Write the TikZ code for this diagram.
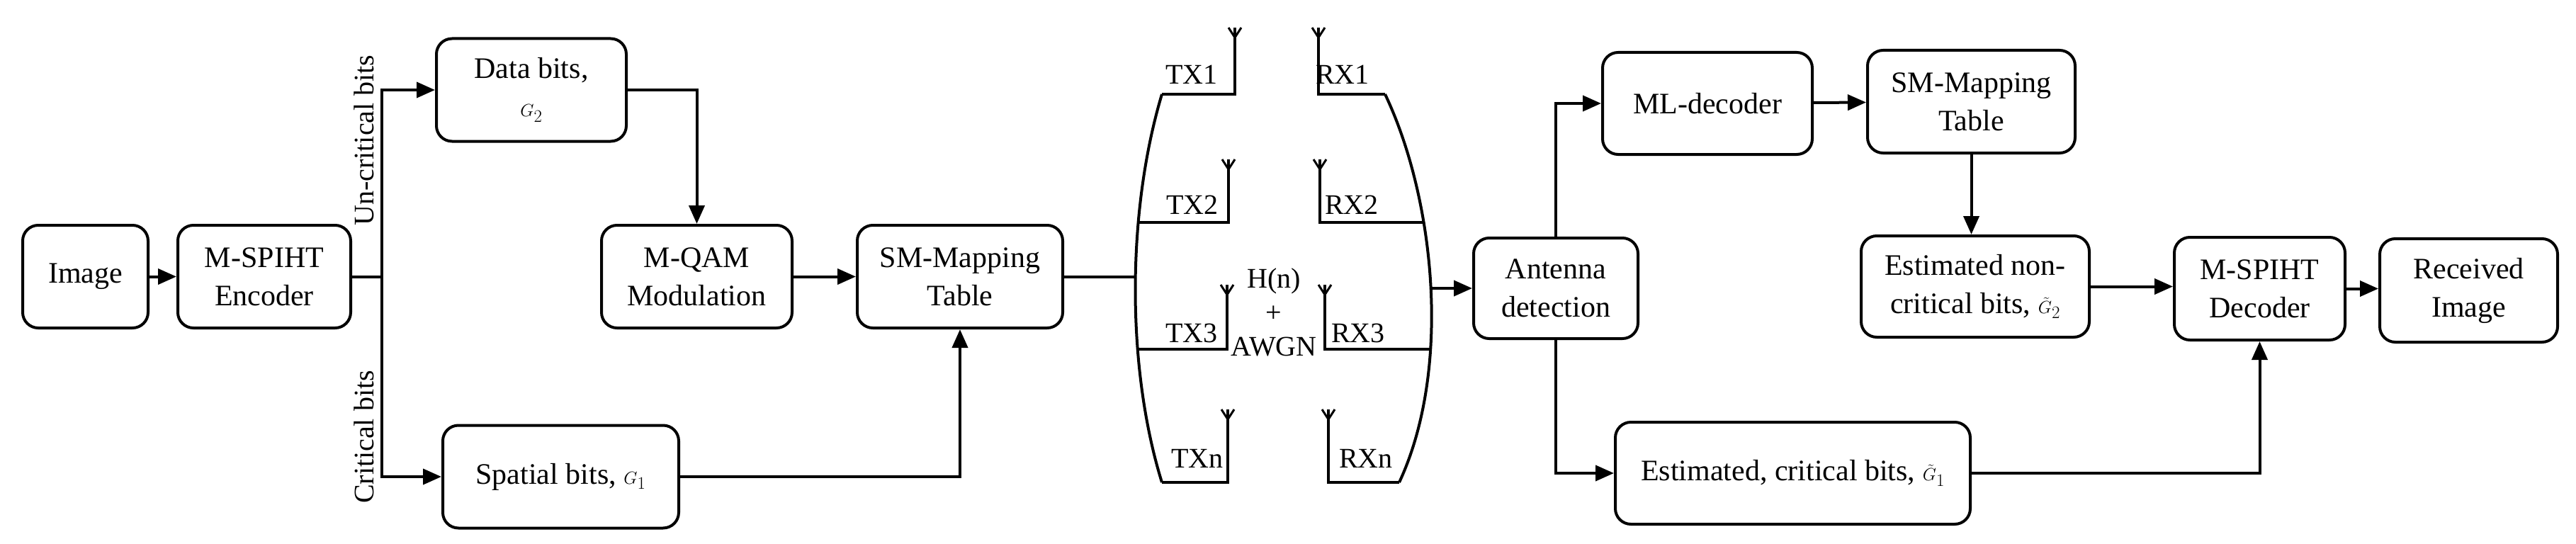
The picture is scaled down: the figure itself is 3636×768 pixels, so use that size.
\documentclass[tikz,border=0pt]{standalone}
\usepackage{fontspec}
\setmainfont{Liberation Serif}
\usetikzlibrary{arrows.meta}
\begin{document}
\begin{tikzpicture}[x=1pt,y=-1pt,line width=4pt,
  box/.style={draw,rounded corners=22pt,align=center,inner sep=2pt,font=\fontsize{42}{54}\selectfont},
  arr/.style={-{Triangle[length=26pt,width=22pt]}},
  lab/.style={font=\fontsize{40}{48}\selectfont,inner sep=0pt},
  ant/.style={line width=3pt}]
\useasboundingbox (0,0) rectangle (3636,768);
\node[box,minimum width=177pt,minimum height=145pt] (img) at (120.5,390.5) {Image};
\node[box,minimum width=244pt,minimum height=145pt] (enc) at (373,390.5) {M-SPIHT\\Encoder};
\node[box,minimum width=268pt,minimum height=145pt] (data) at (750,127) {Data bits,\\$G_2$};
\node[box,minimum width=269pt,minimum height=145pt] (mod) at (983.5,390.5) {M-QAM\\Modulation};
\node[box,minimum width=333pt,minimum height=145pt] (spat) at (791.5,673) {Spatial bits, $G_1$};
\node[box,minimum width=290pt,minimum height=145pt] (smm) at (1355,390.5) {SM-Mapping\\Table};
\node[box,minimum width=232pt,minimum height=142pt] (antd) at (2196,407) {Antenna\\detection};
\node[box,minimum width=296pt,minimum height=144pt] (ml) at (2410,146) {ML-decoder};
\node[box,minimum width=293pt,minimum height=145pt] (smm2) at (2782.5,143.5) {SM-Mapping\\Table};
\node[box,minimum width=322pt,minimum height=143pt] (estnc) at (2788,404.5) {Estimated non-\\critical bits, $\tilde{G}_2$};
\node[box,minimum width=501pt,minimum height=144pt] (estc) at (2530.5,668) {Estimated, critical bits, $\tilde{G}_1$};
\node[box,minimum width=241pt,minimum height=145pt] (dec) at (3189.5,407.5) {M-SPIHT\\Decoder};
\node[box,minimum width=251pt,minimum height=146pt] (recv) at (3484.5,410) {Received\\Image};
% rotated labels
\node[lab,rotate=90] (unc) at (514,198) {Un-critical bits};
\node[lab,rotate=90] (crit) at (514,617) {Critical bits};
% channel
\draw (1640,133) .. controls (1590,300) and (1590,520) .. (1640,681);
\draw (1955,133) .. controls (2025,280) and (2050,520) .. (1975,681);
\coordinate (chin) at (1601,390.5);
\coordinate (chout) at (2021,407);
% TX antennas
\foreach \yl/\xv/\xs/\top in {133/1743/1640/39, 314/1734/1607/225, 493/1732/1606/402, 681/1733/1640/578}{
  \draw (\xs,\yl) -- (\xv,\yl) -- (\xv,\top);
  \draw[ant] (\xv,\top+14) -- (\xv-9,\top) (\xv,\top+14) -- (\xv+9,\top);
}
\foreach \yl/\xv/\xe/\top in {133/1861/1955/39, 314/1863/2011/225, 493/1870/2020/402, 681/1875/1975/578}{
  \draw (\xe,\yl) -- (\xv,\yl) -- (\xv,\top);
  \draw[ant] (\xv,\top+14) -- (\xv-9,\top) (\xv,\top+14) -- (\xv+9,\top);
}
\node[lab] (tx1) at (1682,105) {TX1};
\node[lab] (tx2) at (1683,289) {TX2};
\node[lab] (tx3) at (1682,470) {TX3};
\node[lab] (txn) at (1690,647) {TXn};
\node[lab] (rx1) at (1895,105) {RX1};
\node[lab] (rx2) at (1908,289) {RX2};
\node[lab] (rx3) at (1917,470) {RX3};
\node[lab] (rxn) at (1928,647) {RXn};
\node[lab,align=center] (hn) at (1798,441) {H(n)\\+\\AWGN};
% connectors
\coordinate (split) at (539,390.5);
\draw[arr] (img) -- (enc);
\draw (enc.east) -- (split);
\draw[arr] (split) |- (data.west);
\draw[arr] (split) |- (spat.west);
\draw[arr] (data.east) -| (mod.north);
\draw[arr] (mod) -- (smm);
\draw[arr] (spat.east) -| (smm.south);
\draw (smm.east) -- (chin);
\draw[arr] (chout) -- (antd.west);
\draw[arr] (antd.north) |- (ml.west);
\draw[arr] (antd.south) |- (estc.west);
\draw[arr] (ml) -- (smm2);
\draw[arr] (smm2.south) -- (smm2.south |- estnc.north);
\draw[arr] (estnc.east) -- (estnc.east -| dec.west);
\draw[arr] (dec.east) -- (dec.east -| recv.west);
\draw[arr] (estc.east) -| (dec.south);
\end{tikzpicture}
\end{document}
